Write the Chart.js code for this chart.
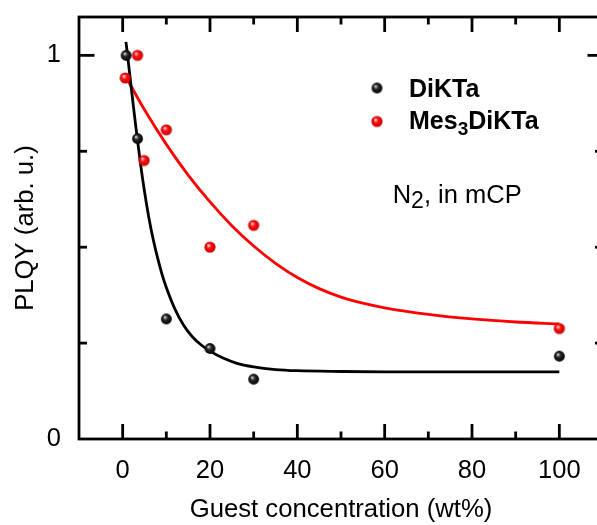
<!DOCTYPE html>
<html>
<head>
<meta charset="utf-8">
<script src="https://cdn.jsdelivr.net/npm/chart.js@4.4.1/dist/chart.umd.min.js"></script>
<style>
  html, body { margin: 0; padding: 0; background: #fff; overflow: hidden; }
  #wrap { width: 620px; height: 525px; }
</style>
</head>
<body>
<div id="wrap"><canvas id="plqy" width="620" height="525"></canvas></div>
<script>
// Measured PLQY vs. guest concentration in mCP (N2 atmosphere)
const dikConc = [0.8, 3.4, 10, 20, 30, 100];
const dikPLQY = [1.0, 0.783, 0.313, 0.236, 0.156, 0.216];
const mesConc = [0.6, 3.4, 4.9, 10, 20, 30, 100];
const mesPLQY = [0.941, 1.0, 0.726, 0.806, 0.50, 0.557, 0.288];

// Fitted decay curves, sampled along concentration
const dikFitConc = [0.75, 1, 2, 3, 4, 5, 6, 7, 8, 9, 10, 12, 14, 16, 18, 20, 23, 26, 30, 35, 40, 50, 60, 80, 100];
const dikFitPLQY = [1.035, 1.012, 0.912, 0.815, 0.725, 0.645, 0.577, 0.52, 0.472, 0.43, 0.395, 0.338, 0.296, 0.266, 0.245, 0.229, 0.211, 0.198, 0.188, 0.181, 0.178, 0.176, 0.175, 0.175, 0.175];
const mesFitConc = [0.8, 5, 10, 15, 20, 25, 30, 35, 40, 45, 50, 55, 60, 70, 80, 90, 100];
const mesFitPLQY = [0.943, 0.858, 0.768, 0.688, 0.618, 0.556, 0.503, 0.458, 0.421, 0.392, 0.370, 0.354, 0.342, 0.325, 0.313, 0.305, 0.300];

// Axis tick labels
const xTickLabels = [0, 20, 40, 60, 80, 100];
const yTickLabels = [0, 1];

const FONT = '"Liberation Sans", Arial, Helvetica, sans-serif';

const toXY = (xs, ys) => xs.map((x, i) => ({ x, y: ys[i] }));

// Shaded ball markers
function ball(r, light, mid, dark) {
  const s = Math.ceil(r * 2) + 2;
  const c = document.createElement('canvas');
  c.width = c.height = s;
  const g = c.getContext('2d');
  const cx = s / 2, cy = s / 2;
  const grad = g.createRadialGradient(cx - r * 0.3, cy - r * 0.35, r * 0.05, cx, cy, r);
  grad.addColorStop(0, light);
  grad.addColorStop(0.4, mid);
  grad.addColorStop(1, dark);
  g.fillStyle = grad;
  g.beginPath();
  g.arc(cx, cy, r, 0, Math.PI * 2);
  g.fill();
  return c;
}
const blackBall = ball(5.4, '#d8d8d8', '#2a2a2a', '#000000');
const redBall = ball(5.6, '#ffe4e4', '#ff1010', '#c80000');

// Box frame with inward major/minor ticks on all four sides
const framePlugin = {
  id: 'frame',
  afterDraw(chart) {
    const { ctx, chartArea: a, scales: { x, y } } = chart;
    ctx.save();
    ctx.strokeStyle = '#000';
    ctx.lineWidth = 2.8;
    ctx.lineCap = 'butt';
    const seg = (x1, y1, x2, y2) => { ctx.beginPath(); ctx.moveTo(x1, y1); ctx.lineTo(x2, y2); ctx.stroke(); };
    x.ticks.forEach(t => {
      if (t.value <= x.min || t.value >= x.max) return;
      const px = x.getPixelForValue(t.value);
      const len = t.value % 20 === 0 ? 15 : 7.5;
      seg(px, a.bottom, px, a.bottom - len);
      seg(px, a.top, px, a.top + len);
    });
    y.ticks.forEach(t => {
      if (t.value <= y.min + 1e-9 || t.value >= y.max - 1e-9) return;
      const py = y.getPixelForValue(t.value);
      const len = Math.abs(t.value - Math.round(t.value)) < 1e-9 ? 15.5 : 8;
      seg(a.left, py, a.left + len, py);
      seg(a.right, py, a.right - len, py);
    });
    ctx.strokeRect(a.left, a.top, a.right - a.left, a.bottom - a.top);
    ctx.restore();
  }
};

// Draws text runs with optional subscripts
function richText(ctx, x, y, runs) {
  let cx = x;
  runs.forEach(r => {
    ctx.font = r.font;
    ctx.fillText(r.text, cx, y + (r.dy || 0));
    cx += ctx.measureText(r.text).width;
  });
}

// Legend and sample condition annotation
const notesPlugin = {
  id: 'notes',
  afterDraw(chart) {
    const { ctx, chartArea: a } = chart;
    ctx.save();
    ctx.fillStyle = '#000';
    ctx.textBaseline = 'alphabetic';
    ctx.textAlign = 'left';
    const dotX = a.left + 298;
    const textX = a.left + 330;
    const row1 = a.top + 71, row2 = a.top + 104.5;
    ctx.drawImage(blackBall, dotX - blackBall.width / 2, row1 - blackBall.height / 2);
    ctx.drawImage(redBall, dotX - redBall.width / 2, row2 - redBall.height / 2);
    const bold = 'bold 25px ' + FONT;
    richText(ctx, textX, row1 + 8.7, [{ text: 'DiKTa', font: bold }]);
    richText(ctx, textX, row2 + 7.8, [
      { text: 'Mes', font: bold },
      { text: '3', font: 'bold 19px ' + FONT, dy: 5.5 },
      { text: 'DiKTa', font: bold }
    ]);
    richText(ctx, a.left + 313.7, a.top + 186.3, [
      { text: 'N', font: '25.5px ' + FONT },
      { text: '2', font: '23px ' + FONT, dy: 5 },
      { text: ', in mCP', font: '25.5px ' + FONT }
    ]);
    ctx.restore();
  }
};

// Keep the plot box fixed: no extra room reserved for half-height edge labels
const noEdgePadding = s => {
  s.paddingTop = 0; s.paddingBottom = 0; s.paddingLeft = 0; s.paddingRight = 0;
};

new Chart(document.getElementById('plqy'), {
  type: 'scatter',
  data: {
    datasets: [
      {
        label: 'Mes3DiKTa fit',
        data: toXY(mesFitConc, mesFitPLQY),
        showLine: true,
        borderColor: '#ff0000',
        borderWidth: 2.8,
        pointRadius: 0,
        cubicInterpolationMode: 'monotone',
        order: 4
      },
      {
        label: 'DiKTa fit',
        data: toXY(dikFitConc, dikFitPLQY),
        showLine: true,
        borderColor: '#000000',
        borderWidth: 2.8,
        pointRadius: 0,
        cubicInterpolationMode: 'monotone',
        order: 3
      },
      {
        label: 'Mes3DiKTa',
        data: toXY(mesConc, mesPLQY),
        pointStyle: redBall,
        order: 2
      },
      {
        label: 'DiKTa',
        data: toXY(dikConc, dikPLQY),
        pointStyle: blackBall,
        order: 1
      }
    ]
  },
  options: {
    responsive: false,
    animation: false,
    devicePixelRatio: 1,
    layout: { padding: { top: 17, right: 17, left: 0, bottom: 0 } },
    plugins: {
      legend: { display: false },
      tooltip: { enabled: false }
    },
    scales: {
      x: {
        type: 'linear',
        min: -10,
        max: 110,
        grid: { display: false, drawTicks: false },
        border: { display: false },
        ticks: {
          stepSize: 10,
          autoSkip: false,
          maxRotation: 0,
          minRotation: 0,
          includeBounds: false,
          padding: 17,
          color: '#000',
          font: { family: FONT, size: 25.5 },
          callback: v => (xTickLabels.includes(v) ? String(v) : '')
        },
        title: {
          display: true,
          text: 'Guest concentration (wt%)',
          color: '#000',
          font: { family: FONT, size: 25.7 },
          padding: { top: 0, bottom: 0 }
        },
        afterFit: s => { s.height = 86; noEdgePadding(s); }
      },
      y: {
        type: 'linear',
        min: 0,
        max: 1.1,
        grid: { display: false, drawTicks: false },
        border: { display: false },
        ticks: {
          stepSize: 0.25,
          autoSkip: false,
          includeBounds: false,
          crossAlign: 'near',
          padding: 18,
          color: '#000',
          font: { family: FONT, size: 25.5 },
          callback: v => (yTickLabels.some(t => Math.abs(t - v) < 1e-9) ? String(Math.round(v)) : '')
        },
        title: {
          display: true,
          text: 'PLQY (arb. u.)',
          color: '#000',
          font: { family: FONT, size: 25.7 },
          padding: { top: 10, bottom: 0 }
        },
        afterFit: s => { s.width = 79; noEdgePadding(s); }
      }
    }
  },
  plugins: [framePlugin, notesPlugin]
});
</script>
</body>
</html>
